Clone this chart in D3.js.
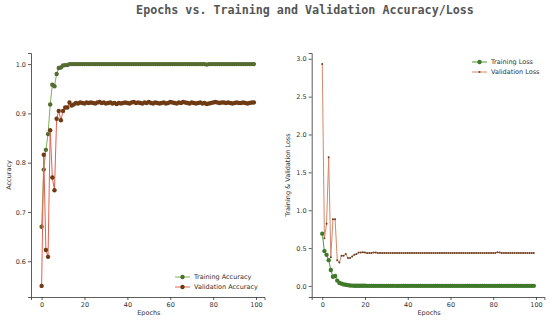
<!DOCTYPE html>
<head>
<meta charset="utf-8">
<title>Epochs vs. Training and Validation Accuracy/Loss</title>
<script src="https://d3js.org/d3.v7.min.js"></script>
<style>
body { margin: 0; background: #fff; }
text { font-family: "DejaVu Sans", sans-serif; }
</style>
</head>
<body>
<script>
// values, one per epoch (0..99)
var trainAcc = [0.670,0.786,0.826,0.858,0.918,0.958,0.955,0.980,0.992,0.993,
  0.997,0.998,0.998,1.000,1.000,1.000,1.000,1.000,1.000,1.000,
  1.000,1.000,1.000,1.000,1.000,1.000,1.000,1.000,1.000,1.000,
  1.000,1.000,1.000,1.000,1.000,1.000,1.000,1.000,1.000,1.000,
  1.000,1.000,1.000,1.000,1.000,1.000,1.000,1.000,1.000,1.000,
  1.000,1.000,1.000,1.000,1.000,1.000,1.000,1.000,1.000,1.000,
  1.000,1.000,1.000,1.000,1.000,1.000,1.000,1.000,1.000,1.000,
  1.000,1.000,1.000,1.000,1.000,1.000,1.000,0.999,1.000,1.000,
  1.000,1.000,1.000,1.000,1.000,1.000,1.000,1.000,1.000,1.000,
  1.000,1.000,1.000,1.000,1.000,1.000,1.000,1.000,1.000,1.000];
var valAcc = [0.550,0.816,0.623,0.609,0.866,0.770,0.744,0.889,0.905,0.886,
  0.905,0.912,0.912,0.922,0.916,0.918,
  0.921,0.920,0.922,0.921,0.920,0.922,0.921,0.922,0.921,0.920,
  0.922,0.923,0.921,0.922,0.920,0.921,0.922,0.920,0.921,0.919,
  0.921,0.920,0.921,0.922,0.921,0.920,0.922,0.923,0.921,0.922,
  0.921,0.920,0.922,0.921,0.923,0.921,0.920,0.922,0.921,0.920,
  0.921,0.922,0.920,0.921,0.923,0.922,0.921,0.920,0.922,0.921,
  0.923,0.922,0.921,0.920,0.922,0.921,0.920,0.921,0.922,0.920,
  0.921,0.919,0.920,0.921,0.922,0.923,0.922,0.921,0.922,0.922,
  0.921,0.922,0.921,0.920,0.921,0.922,0.921,0.921,0.922,0.921,
  0.920,0.921,0.922,0.922];
var trainLoss = [0.690,0.460,0.410,0.340,0.210,0.120,0.130,0.070,0.040,0.030,
  0.020,0.015,0.010,0.006,0.004,0.003,0.003,0.002,0.002,0.002,
  0.002,0.001,0.001,0.001,0.001,0.001,0.001,0.001,0.001,0.001,
  0.001,0.001,0.001,0.001,0.001,0.000,0.001,0.001,0.001,0.001,
  0.001,0.001,0.001,0.001,0.001,0.001,0.001,0.001,0.001,0.001,
  0.001,0.001,0.001,0.001,0.001,0.001,0.001,0.001,0.001,0.001,
  0.001,0.001,0.001,0.001,0.001,0.001,0.001,0.001,0.001,0.001,
  0.001,0.001,0.001,0.001,0.001,0.001,0.001,0.001,0.001,0.001,
  0.001,0.001,0.001,0.001,0.001,0.001,0.001,0.001,0.001,0.001,
  0.001,0.001,0.001,0.001,0.001,0.001,0.001,0.001,0.001,0.001];
var valLoss = [2.930,0.630,0.820,1.700,0.380,0.880,0.880,0.340,0.310,0.400,
  0.400,0.420,0.370,0.370,0.390,0.410,0.420,0.440,0.440,0.445,
  0.440,0.435,0.435,0.435,0.440,0.440,0.435,0.435,0.435,0.435,
  0.435,0.435,0.435,0.435,0.435,0.435,0.435,0.435,0.435,0.435,
  0.435,0.435,0.435,0.435,0.435,0.435,0.435,0.435,0.435,0.435,
  0.435,0.435,0.435,0.435,0.435,0.435,0.435,0.435,0.435,0.435,
  0.435,0.435,0.435,0.435,0.435,0.435,0.435,0.435,0.435,0.435,
  0.435,0.435,0.435,0.435,0.435,0.435,0.435,0.435,0.435,0.435,
  0.435,0.435,0.445,0.440,0.435,0.435,0.435,0.435,0.435,0.435,
  0.435,0.435,0.435,0.435,0.435,0.435,0.435,0.435,0.435,0.435];
var xTicks = [0, 20, 40, 60, 80, 100];
var accTicks = [0.6, 0.7, 0.8, 0.9, 1.0];
var lossTicks = [0.0, 0.5, 1.0, 1.5, 2.0, 2.5, 3.0];

var width = 550, height = 322;
var svg = d3.select("body").append("svg")
  .attr("width", width)
  .attr("height", height);

svg.append("text")
  .attr("x", 305).attr("y", 14)
  .attr("text-anchor", "middle")
  .style("font-family", "'DejaVu Sans Mono', monospace")
  .style("font-weight", "bold")
  .style("font-size", "11.7px")
  .attr("fill", "#555")
  .text("Epochs vs. Training and Validation Accuracy/Loss");

function panel(o) {
  var x = d3.scaleLinear().domain([-4.95, 103.95]).range([o.left, o.right]);
  var y = d3.scaleLinear().domain(o.ydom).range([297, 53]);
  var g = svg.append("g");

  var xa = g.append("g").attr("transform", "translate(0,297)")
    .call(d3.axisBottom(x).tickValues(xTicks).tickSize(3).tickPadding(2).tickFormat(d3.format("d")));
  var ya = g.append("g").attr("transform", "translate(" + o.left + ",0)")
    .call(d3.axisLeft(y).tickValues(o.yticks).tickSize(3).tickPadding(2).tickFormat(d3.format(".1f")));
  [xa, ya].forEach(function(a) {
    a.select(".domain").attr("stroke", "#333").attr("stroke-width", 0.8);
    a.selectAll(".tick line").attr("stroke", "#333").attr("stroke-width", 0.8);
    a.selectAll(".tick text").attr("fill", "#333").style("font-size", "6.5px");
  });

  g.append("text")
    .attr("x", (x(0) + x(100)) / 2).attr("y", 315)
    .attr("text-anchor", "middle").style("font-size", "6.5px").attr("fill", "#333")
    .text("Epochs");
  g.append("text")
    .attr("transform", "translate(" + o.ylabX + ",175) rotate(-90)")
    .attr("text-anchor", "middle").style("font-size", "6.5px").attr("fill", "#333")
    .text(o.ylabel);

  o.series.forEach(function(s) {
    var line = d3.line().x(function(d, i) { return x(i); }).y(function(d) { return y(d); });
    g.append("path").datum(s.values)
      .attr("fill", "none").attr("stroke", s.line).attr("stroke-width", 1)
      .attr("d", line);
    g.selectAll(null).data(s.values).enter().append("circle")
      .attr("cx", function(d, i) { return x(i); })
      .attr("cy", function(d) { return y(d); })
      .attr("r", s.r).attr("fill", s.marker);
  });

  // legend
  o.series.forEach(function(s, i) {
    var ly = o.legY + i * 10;
    g.append("line").attr("x1", o.legX).attr("x2", o.legX + 15)
      .attr("y1", ly).attr("y2", ly).attr("stroke", s.line).attr("stroke-width", 1);
    g.append("circle").attr("cx", o.legX + 7.5).attr("cy", ly).attr("r", s.r).attr("fill", s.marker);
    g.append("text").attr("x", o.legX + 19).attr("y", ly + 2.3)
      .style("font-size", "6.5px").attr("fill", "#333").text(s.name);
  });
}

panel({
  left: 31, right: 264.5,
  ydom: [0.5275, 1.0225], yticks: accTicks,
  ylabel: "Accuracy", ylabX: 11,
  legX: 175, legY: 277,
  series: [
    {name: "Training Accuracy", values: trainAcc, line: "#7cb35a", marker: "#556b2f", r: 2.2},
    {name: "Validation Accuracy", values: valAcc, line: "#e4604f", marker: "#6e3a14", r: 2.2}
  ]
});

panel({
  left: 311.7, right: 544.4,
  ydom: [-0.1465, 3.0765], yticks: lossTicks,
  ylabel: "Training & Validation Loss", ylabX: 290,
  legX: 472, legY: 62,
  series: [
    {name: "Training Loss", values: trainLoss, line: "#4f9a3c", marker: "#3f7a2a", r: 2.2},
    {name: "Validation Loss", values: valLoss, line: "#d4896a", marker: "#6b3f22", r: 1}
  ]
});
</script>
</body>
